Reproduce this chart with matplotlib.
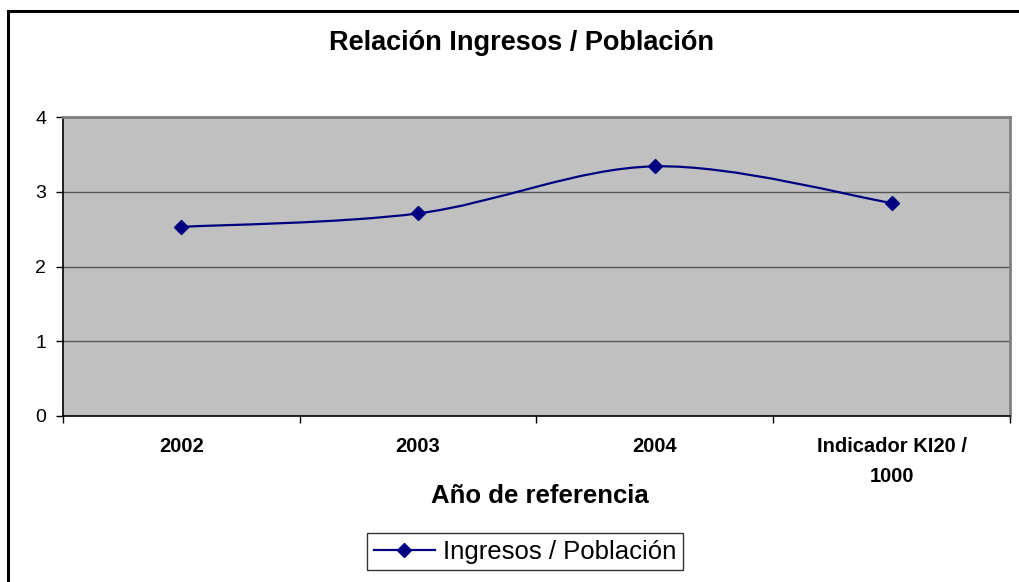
import matplotlib
matplotlib.use("Agg")
import matplotlib.pyplot as plt
from matplotlib.path import Path
from matplotlib.patches import PathPatch, Rectangle
from matplotlib.lines import Line2D

categories = ["2002", "2003", "2004", "Indicador KI20 /\n1000"]
values = [2.53, 2.71, 3.34, 2.85]
series_name = "Ingresos / Población"
title = "Relación Ingresos / Población"
xlabel = "Año de referencia"
yticks = [0, 1, 2, 3, 4]

W, H = 1020, 582
fig = plt.figure(figsize=(W / 100, H / 100), dpi=100)
plt.rcParams['font.family'] = ['Liberation Sans', 'DejaVu Sans']

# outer chart border (extends beyond right/bottom edges)
fig.patches.append(Rectangle((8 / W, -0.05), 1.2, (H - 11) / H + 0.05,
                             transform=fig.transFigure, fill=False,
                             edgecolor='black', linewidth=2.2, zorder=0))

left, right, top, bottom = 63, 1010, 117, 416
ax = fig.add_axes([left / W, 1 - bottom / H, (right - left) / W, (bottom - top) / H])
ax.set_facecolor('#C0C0C0')

x = list(range(len(values)))
ax.set_xlim(-0.5, len(values) - 0.5)
ax.set_ylim(0, 4)

# smoothed line via Bezier segments
n = len(values)
pts = list(zip(x, values))
verts = [pts[0]]
codes = [Path.MOVETO]
for i in range(n - 1):
    p0 = pts[i - 1] if i > 0 else pts[i]
    p1 = pts[i]
    p2 = pts[i + 1]
    p3 = pts[i + 2] if i + 2 < n else pts[i + 1]
    c1 = (p1[0] + (p2[0] - p0[0]) / 6, p1[1] + (p2[1] - p0[1]) / 6)
    c2 = (p2[0] - (p3[0] - p1[0]) / 6, p2[1] - (p3[1] - p1[1]) / 6)
    verts += [c1, c2, p2]
    codes += [Path.CURVE4] * 3
ax.add_patch(PathPatch(Path(verts, codes), facecolor='none', edgecolor='#000080',
                       linewidth=1.6, zorder=3))
ax.plot(x, values, linestyle='none', marker='D', markersize=7.5, color='#000080', zorder=4)

ax.set_yticks(yticks)
ax.set_yticklabels([str(t) for t in yticks], fontsize=14)
ax.yaxis.grid(True, color='#555555', linewidth=1)
ax.set_axisbelow(True)
ax.tick_params(axis='y', length=5, width=1, direction='out', pad=7)

ax.set_xticks([i - 0.5 for i in range(n + 1)], minor=False)
ax.set_xticklabels([])
ax.set_xticks(x, minor=True)
ax.set_xticklabels(categories, minor=True, fontsize=14.5, fontweight='bold', linespacing=1.75)
ax.tick_params(axis='x', which='major', length=5, width=1, direction='out')
ax.tick_params(axis='x', which='minor', length=0, pad=15)

for s in ['left', 'bottom']:
    ax.spines[s].set_color('black')
    ax.spines[s].set_linewidth(1.2)
for s in ['top', 'right']:
    ax.spines[s].set_color('#808080')
    ax.spines[s].set_linewidth(2)

fig.text(540 / W, 1 - 496 / H, xlabel, ha='center', va='center', fontsize=18.5, fontweight='bold')

fig.text(522 / W, 1 - 43 / H, title, ha='center', va='center', fontsize=19.5, fontweight='bold')

handle = Line2D([], [], color='#000080', marker='D', markersize=7, linewidth=1.6)
leg = fig.legend([handle], [series_name], loc='center', bbox_to_anchor=(525 / W, 1 - 551.5 / H),
                 fontsize=18.5, frameon=True, fancybox=False, edgecolor='black',
                 handlelength=2.4, borderpad=0.25, handletextpad=0.3, borderaxespad=0)
leg.get_frame().set_linewidth(1)

fig.savefig("out.png", dpi=100)
